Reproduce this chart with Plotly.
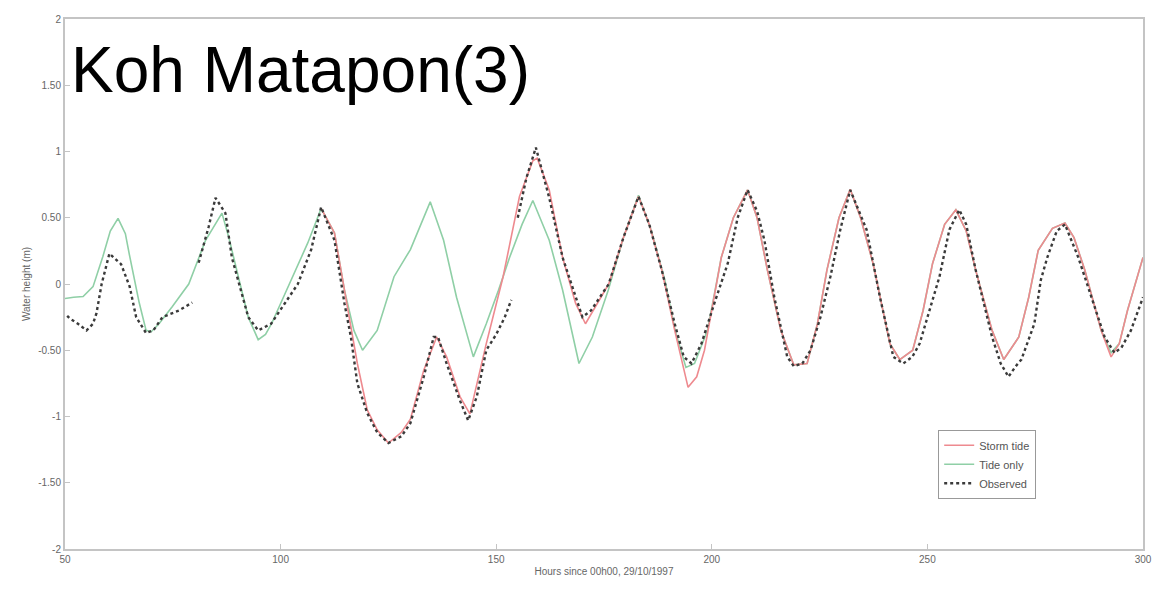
import plotly.graph_objects as go

# ---------------- data ----------------
tide_hours = [50, 52, 54.2, 56.5, 58.8, 60.5, 62.3, 64, 65, 67.2, 68.8, 70, 71.8, 74.9, 78.7,
              82.6, 86.4, 88, 90.2, 92.5, 94.8, 96.5, 97.9, 102.5, 106.3, 109.4, 112.5, 114.8,
              117, 119, 122.4, 126.3, 130.1, 134.7, 137.8, 140.8, 144.7, 147.7, 150.5, 153.1,
              156, 158.5, 162.3, 165.4, 169.2, 172.3, 176, 179.5, 183, 186, 189.1, 191.5, 194,
              196, 199, 202.2, 205, 208.3, 210.5, 212.9, 216, 219, 222.1, 224.5, 226.7, 229.5,
              232.1, 234.5, 237.4, 241.3, 243.6, 246.6, 249, 251.2, 254, 256.6, 259, 261.2, 265,
              267.7, 271.2, 273.5, 275.7, 279, 281.9, 284, 286.5, 290.3, 292.6, 294.5, 296.4, 300]
tide_values = [-0.11, -0.1, -0.095, -0.02, 0.21, 0.4, 0.495, 0.38, 0.21, -0.14, -0.35, -0.36, -0.3,
               -0.17, 0.0, 0.33, 0.535, 0.35, 0.055, -0.25, -0.42, -0.38, -0.3, 0.03, 0.31, 0.57,
               0.385, -0.045, -0.35, -0.5, -0.35, 0.055, 0.26, 0.62, 0.33, -0.1, -0.55, -0.3,
               -0.05, 0.2, 0.45, 0.63, 0.33, -0.045, -0.6, -0.4, -0.045, 0.35, 0.67, 0.4, 0.03,
               -0.35, -0.63, -0.6, -0.35, 0.2, 0.5, 0.71, 0.5, 0.105, -0.35, -0.61, -0.6, -0.3,
               0.105, 0.5, 0.715, 0.5, 0.155, -0.45, -0.57, -0.5, -0.2, 0.155, 0.45, 0.56, 0.4,
               0.105, -0.35, -0.57, -0.4, -0.1, 0.255, 0.42, 0.46, 0.35, 0.105, -0.35, -0.52,
               -0.45, -0.2, 0.2]

storm_hours = [109.4, 112.5, 114.8, 117.8, 120.1, 122.4, 125, 128, 130.1, 133.2, 136.2, 138.5,
               141.6, 143.9, 147.7, 151.6, 155.4, 158.5, 159.5, 162.3, 165.4, 168.4, 170.7, 173.5,
               176.1, 179.5, 183, 185.5, 188.4, 191.4, 194.5, 196.5, 198.3, 202.2, 205, 208.3,
               210.5, 212.9, 216, 219, 222.1, 224.5, 226.7, 229.5, 232.1, 234.5, 237.4, 241.3,
               243.6, 246.6, 249, 251.2, 254, 256.6, 259, 261.2, 265, 267.7, 271.2, 273.5, 275.7,
               279, 281.9, 284, 286.5, 290.3, 292.6, 294.5, 296.4, 300]
storm_values = [0.57, 0.385, -0.045, -0.6, -0.95, -1.1, -1.2, -1.12, -1.02, -0.65, -0.4, -0.55,
                -0.85, -0.98, -0.45, 0.055, 0.66, 0.93, 0.95, 0.71, 0.2, -0.145, -0.3, -0.15,
                0.0, 0.35, 0.66, 0.45, 0.105, -0.35, -0.78, -0.7, -0.5, 0.2, 0.5, 0.71, 0.5,
                0.105, -0.35, -0.61, -0.6, -0.3, 0.105, 0.5, 0.715, 0.5, 0.155, -0.45, -0.57,
                -0.5, -0.2, 0.155, 0.45, 0.56, 0.4, 0.105, -0.35, -0.57, -0.4, -0.1, 0.255, 0.42,
                0.46, 0.35, 0.105, -0.35, -0.55, -0.45, -0.2, 0.2]

obs_hours = [50.5, 51.1, 53, 55, 56.5, 57.3, 58.5, 60.3, 63, 65, 66.5, 68.8, 70.5, 72.6, 76.4,
             79.5, None, 81, 83.3, 84.9, 87.2, 88.7, 90.6, 92.5, 94.8, 97.8, 101, 104, 107.1,
             109.4, 112.5, 114.8, 116.3, 117.8, 120.1, 122.4, 125, 128, 130.1, 133.2, 135.5,
             136.5, 138.5, 141.6, 143.5, 145.5, 147.7, 150, 152, 153.5, None, 155, 157, 159.2,
             161, 162.3, 165.4, 168.4, 170, 172, 174, 176.1, 179.5, 183, 185.5, 188.4, 191.4,
             193.5, 195.3, 197.6, 200.6, 203.7, 206, 208.3, 210.5, 212.2, 214.5, 217.5, 219,
             221, 222.9, 225.2, 227.5, 229.8, 232.1, 233.5, 235.9, 239, 242.1, 244.4, 246.5,
             248.2, 250.5, 252.8, 255.1, 257.4, 259, 261.2, 265, 267, 268.8, 270.5, 271.8,
             274.8, 276.3, 277.8, 280, 281.9, 285, 288, 291.1, 293.4, 295, 297.2, 300]
obs_values = [-0.24, -0.26, -0.3, -0.35, -0.3, -0.22, 0.0, 0.23, 0.15, -0.02, -0.25, -0.37, -0.35,
              -0.25, -0.2, -0.14, None, 0.16, 0.43, 0.65, 0.535, 0.2, -0.02, -0.25, -0.35, -0.3,
              -0.145, 0.0, 0.26, 0.58, 0.33, -0.145, -0.4, -0.75, -0.975, -1.12, -1.2, -1.15,
              -1.05, -0.7, -0.4, -0.4, -0.6, -0.88, -1.03, -0.85, -0.5, -0.38, -0.25, -0.12, None,
              0.5, 0.8, 1.03, 0.8, 0.65, 0.2, -0.1, -0.25, -0.2, -0.1, 0.0, 0.35, 0.66, 0.45,
              0.105, -0.3, -0.55, -0.6, -0.45, -0.145, 0.155, 0.5, 0.71, 0.55, 0.33, -0.1, -0.55,
              -0.62, -0.6, -0.5, -0.25, 0.055, 0.41, 0.71, 0.6, 0.41, -0.1, -0.55, -0.6, -0.55,
              -0.45, -0.2, 0.055, 0.41, 0.56, 0.45, 0.105, -0.4, -0.6, -0.7, -0.62, -0.57, -0.3,
              0.03, 0.2, 0.4, 0.45, 0.2, -0.1, -0.4, -0.52, -0.48, -0.35, -0.1]

x_ticks = [50, 100, 150, 200, 250, 300]
y_ticks = [-2, -1.5, -1, -0.5, 0, 0.5, 1, 1.5, 2]
y_tick_labels = ["-2", "-1.50", "-1", "-0.50", "0", "0.50", "1", "1.50", "2"]

title_text = "Koh Matapon(3)"
x_label = "Hours since 00h00, 29/10/1997"
y_label = "Water height (m)"

# ---------------- figure ----------------
fig = go.Figure()
fig.add_trace(go.Scatter(x=tide_hours, y=tide_values, mode="lines", name="Tide only",
                         legendrank=2,
                         line=dict(color="#8fcfa6", width=1.6)))
fig.add_trace(go.Scatter(x=storm_hours, y=storm_values, mode="lines", name="Storm tide",
                         legendrank=1,
                         line=dict(color="#ee8a8f", width=1.6)))
fig.add_trace(go.Scatter(x=obs_hours, y=obs_values, mode="lines", name="Observed",
                         legendrank=3, connectgaps=False,
                         line=dict(color="#3a3a3a", width=2.4, dash="dot")))

axis_common = dict(showline=True, linecolor="#c4c4c4", linewidth=2, mirror=True,
                   ticks="inside", ticklen=5, tickcolor="#c4c4c4", showgrid=False,
                   zeroline=False, tickfont=dict(family="Liberation Sans, Arial", size=10,
                                                 color="#666"))

fig.update_layout(
    width=1164, height=601,
    margin=dict(l=65, r=12, t=19, b=52),
    paper_bgcolor="white", plot_bgcolor="white",
    font=dict(family="Liberation Sans, Arial", color="#555"),
    xaxis=dict(range=[50, 300], tickvals=x_ticks,
               title=dict(text=x_label, font=dict(size=10, color="#666"), standoff=4),
               **axis_common),
    yaxis=dict(range=[-2, 2], tickvals=y_ticks, ticktext=y_tick_labels,
               title=dict(text=y_label, font=dict(size=10, color="#666"), standoff=6),
               **axis_common),
    legend=dict(x=0.81, y=0.225, xanchor="left", yanchor="top",
                bgcolor="white", bordercolor="#999", borderwidth=1,
                font=dict(size=11, color="#555"), traceorder="normal",
                itemwidth=30),
    showlegend=True,
)

fig.add_annotation(text=title_text, xref="paper", yref="paper", x=0.004, y=0.975,
                   xanchor="left", yanchor="top", showarrow=False,
                   font=dict(family="Liberation Sans, Arial", size=64, color="black"))

fig.write_html("out.html")
